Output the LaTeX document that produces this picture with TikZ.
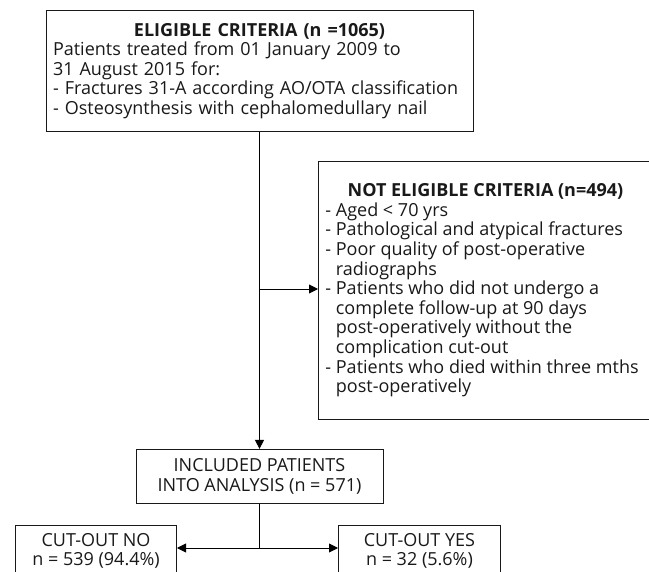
\documentclass[tikz,border=0pt]{standalone}
\usepackage{fontspec}
\setmainfont{Open Sans}
\usetikzlibrary{arrows.meta, positioning}

\begin{document}
\begin{tikzpicture}[x=1pt, y=1pt,
    >={Triangle[length=9pt,width=9pt]},
    line width=0.9pt,
    node distance=20pt,
    every node/.style={font=\fontsize{18}{19.6}\selectfont, text=black!90},
    box/.style={draw=black!90, line width=0.9pt, inner xsep=7pt, inner ysep=0pt},
    listbox/.style={box, align=left},
    countbox/.style={box, align=center}]

    \useasboundingbox (0,0) rectangle (649,-572);

    \node[listbox, anchor=north, text width=413pt, minimum height=121pt]
        (elig) at (259.5,-10)
        {\makebox[\linewidth]{\bfseries ELIGIBLE CRITERIA (n =1065)}\\
         Patients treated from 01 January 2009 to\\
         31 August 2015 for:\\
         - Fractures 31-A according AO/OTA classification\\
         - Osteosynthesis with cephalomedullary nail};

    \node[listbox, minimum height=258pt]
        (ne) [below right=29pt and 58.5pt of elig.south]
        {\makebox[320pt]{\bfseries NOT ELIGIBLE CRITERIA (n=494)}\\
         - Aged < 70 yrs\\
         - Pathological and atypical fractures\\
         - Poor quality of post-operative\\
         \phantom{- }radiographs\\
         - Patients who did not undergo a\\
         \phantom{- }complete follow-up at 90 days\\
         \phantom{- }post-operatively without the\\
         \phantom{- }complication cut-out\\
         - Patients who died within three mths\\
         \phantom{- }post-operatively};

    \node[countbox, minimum width=247pt, minimum height=54pt]
        (incl) [below=317pt of elig]
        {INCLUDED PATIENTS\\ INTO ANALYSIS (n = 571)};

    \node[countbox, minimum width=161pt, minimum height=51pt]
        (cut_no) [below left=21pt and 82.5pt of incl.south]
        {CUT-OUT NO\\ n = 539 (94.4\%)};
    \node[countbox, minimum width=162pt, minimum height=51pt]
        (cut_yes) [below right=21pt and 78.5pt of incl.south]
        {CUT-OUT YES\\ n = 32 (5.6\%)};

    \coordinate (branch) at (elig.south |- 0,-289);
    \coordinate (split)  at (incl.south |- 0,-548);

    \draw[->] (elig) -- (incl);
    \draw[->] (branch) -- (branch -| ne.west);
    \draw (incl) -- (split);
    \draw[->] (split) -- (split -| cut_no.east);
    \draw[->] (split) -- (split -| cut_yes.west);
\end{tikzpicture}
\end{document}
